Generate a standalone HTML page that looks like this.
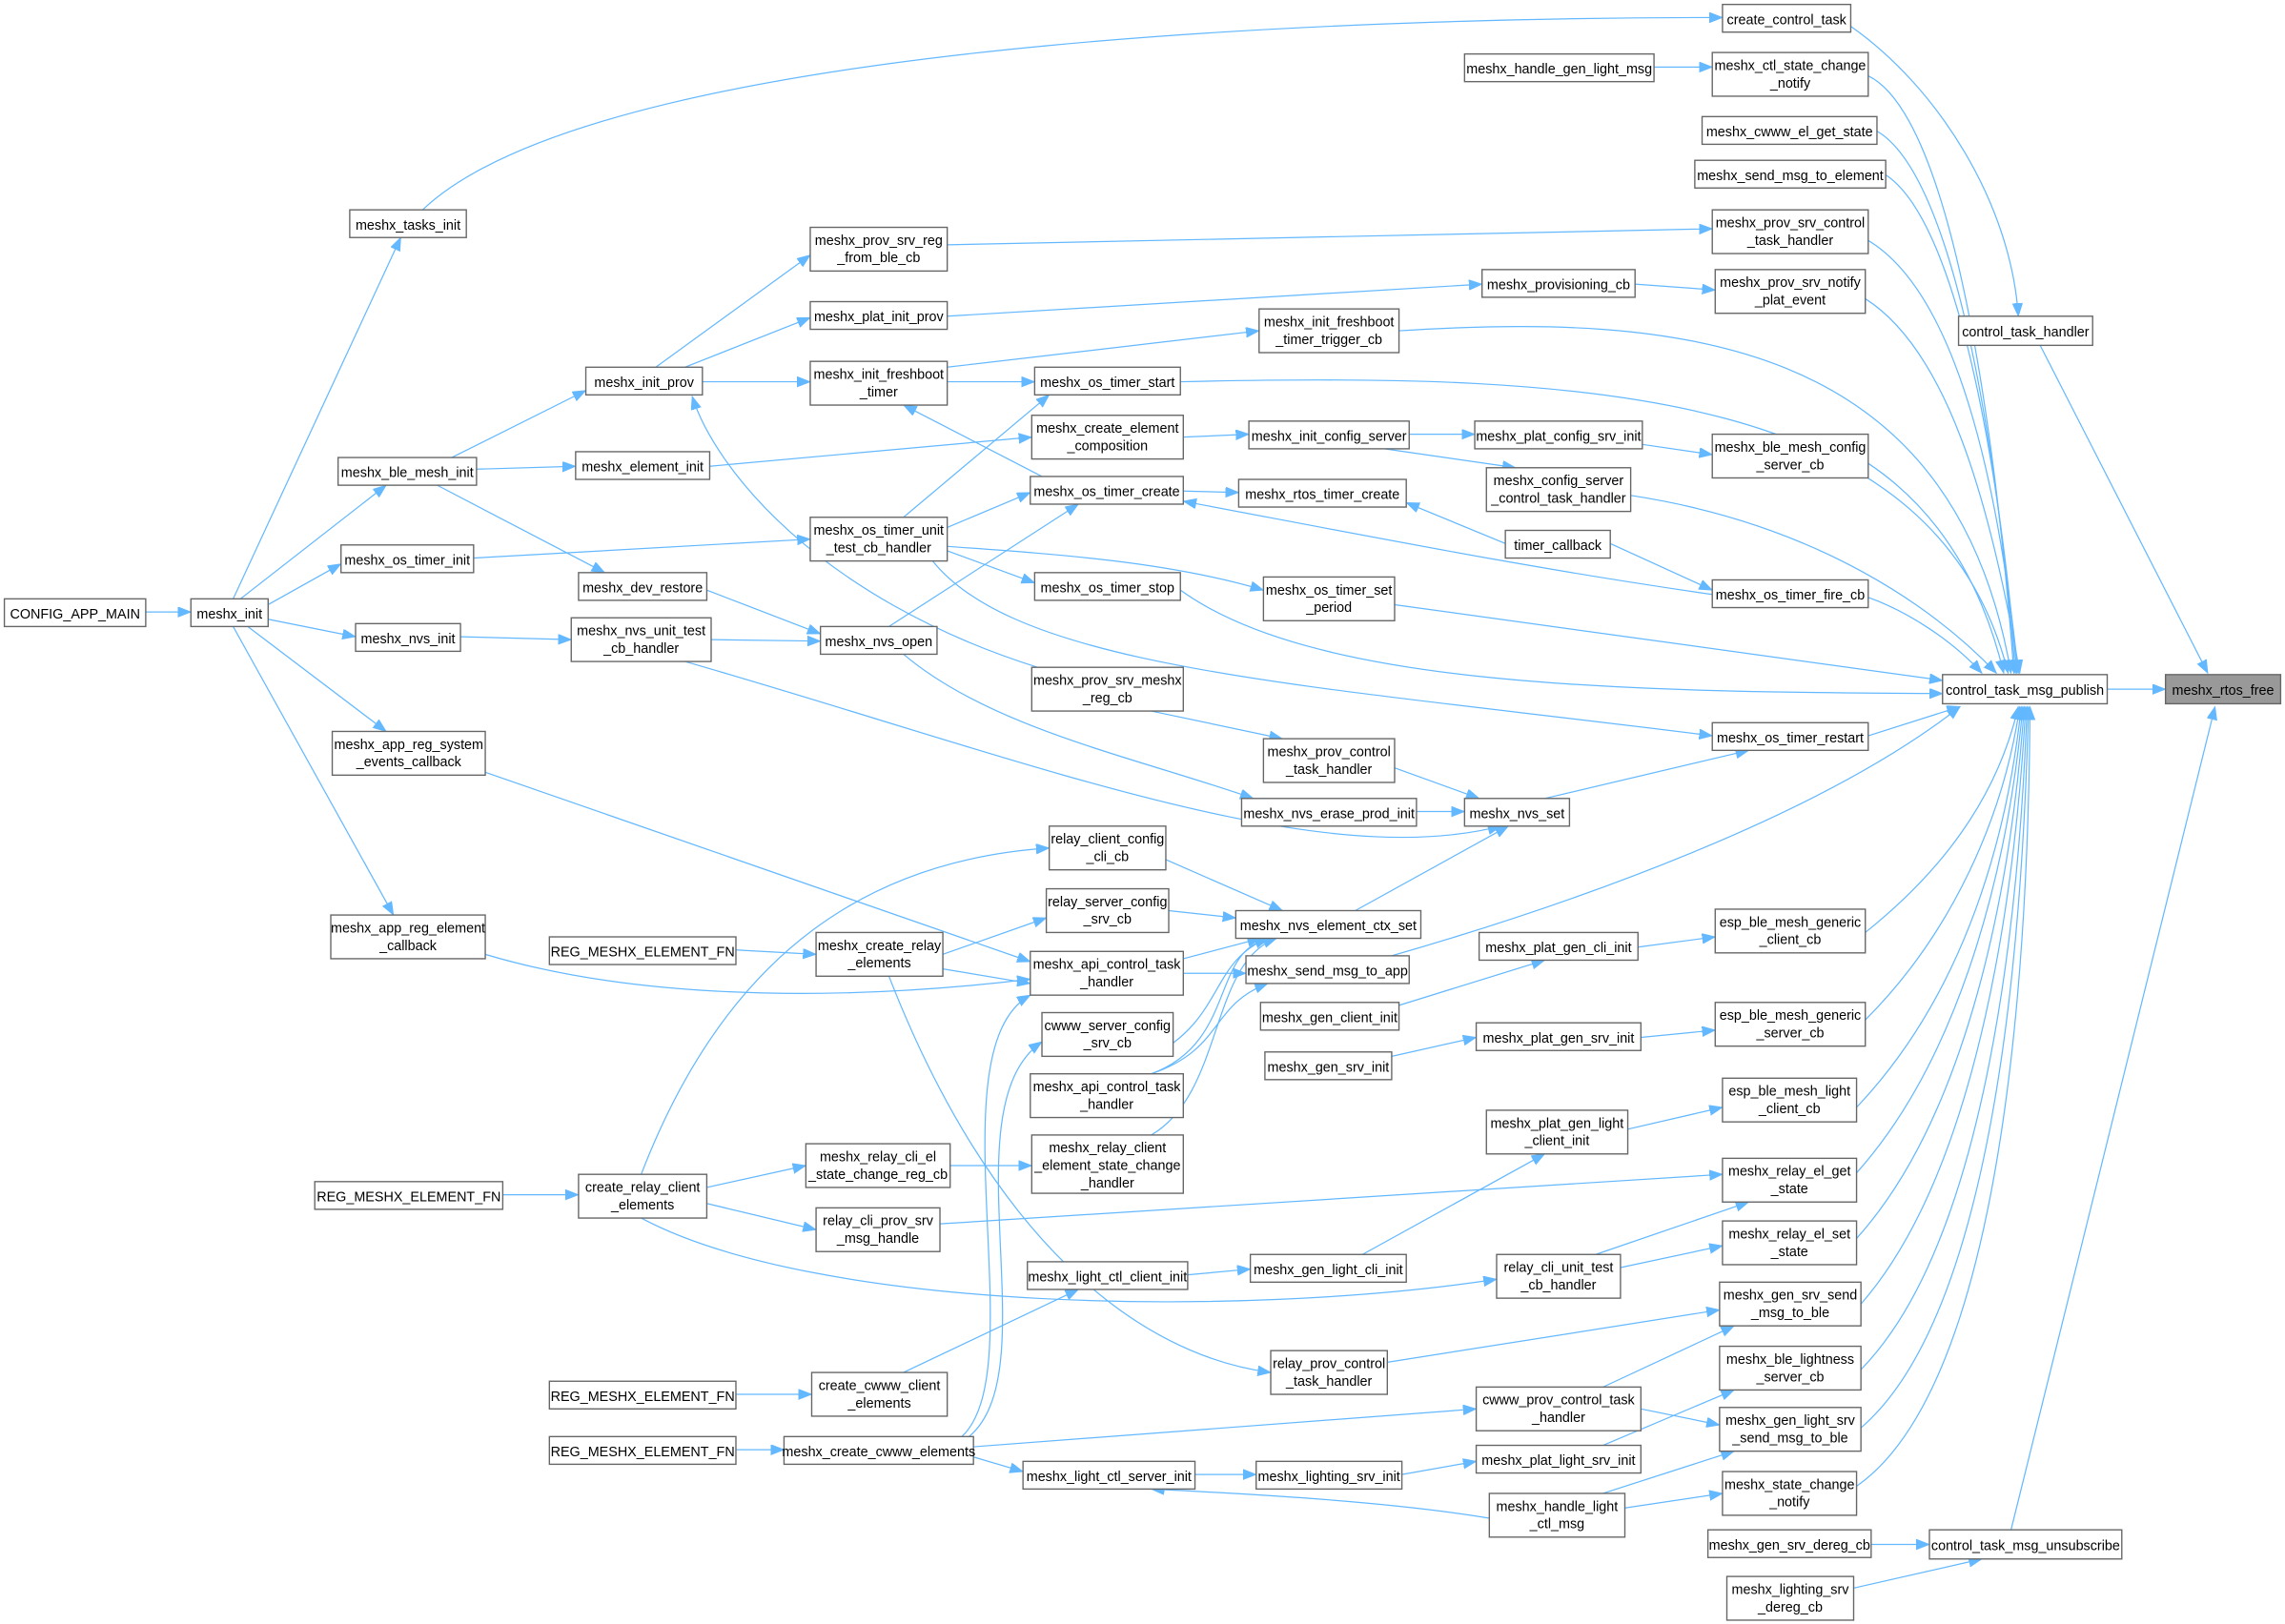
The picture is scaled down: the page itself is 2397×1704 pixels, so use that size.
<!DOCTYPE html>
<html><head><meta charset="utf-8"><style>
html,body{margin:0;padding:0;background:#fff;}
svg{display:block}
text{font-family:"Liberation Sans",Arial,sans-serif;font-size:9.4px;fill:#000;text-anchor:middle}
rect{fill:#fff;stroke:#666;stroke-width:0.9}
path{fill:none;stroke:#63b8ff;stroke-width:0.8}
</style></head><body>
<svg width="2397" height="1704" viewBox="0 0 1568 1114.6" xmlns="http://www.w3.org/2000/svg">
<defs><marker id="a" markerUnits="userSpaceOnUse" markerWidth="10" markerHeight="8" refX="9" refY="3.5" orient="auto"><path d="M0,0 L9,3.5 L0,7 z" style="fill:#63b8ff;stroke:#63b8ff;stroke-width:0.5"/></marker></defs>
<g marker-end="url(#a)">
<path d="M100,420 L131,420"/>
<path d="M160,411 L275,163"/>
<path d="M165,411 L265,333"/>
<path d="M184,415 L234,387"/>
<path d="M184,425 L244,437"/>
<path d="M170,430 L265,502"/>
<path d="M160,430 L270,628"/>
<path d="M290,144 C420,20 1000,12 1182,12"/>
<path d="M310,314 L402,268"/>
<path d="M327,322 L395,320"/>
<path d="M300,333 L415,393"/>
<path d="M325,383 L556,370"/>
<path d="M316,437 L392,439"/>
<path d="M333,530 L707,660"/>
<path d="M333,655 C450,690 600,685 707,672"/>
<path d="M450,252 L556,175"/>
<path d="M470,252 L556,218"/>
<path d="M482,262 L556,262"/>
<path d="M712,458 C560,410 490,320 475,272"/>
<path d="M487,320 L708,300"/>
<path d="M485,405 L563,435"/>
<path d="M488,439 L563,440"/>
<path d="M650,168 L1175,157"/>
<path d="M650,217 L1017,195"/>
<path d="M1122,195 L1177,199"/>
<path d="M650,252 L864,227"/>
<path d="M650,262 L710,262"/>
<path d="M715,327 L620,278"/>
<path d="M620,355 L720,271"/>
<path d="M650,362 L707,338"/>
<path d="M650,378 L710,400"/>
<path d="M650,375 C720,380 800,385 867,405"/>
<path d="M640,385 C700,460 900,470 1175,505"/>
<path d="M610,430 L740,346"/>
<path d="M812,337 L850,338"/>
<path d="M1105,373 L1175,405"/>
<path d="M1175,408 C1050,390 950,370 812,344"/>
<path d="M812,300 L857,298"/>
<path d="M967,298 L1012,298"/>
<path d="M950,308 L1040,321"/>
<path d="M1127,305 L1175,312"/>
<path d="M790,488 L880,507"/>
<path d="M957,527 L1015,548"/>
<path d="M620,449 C680,500 780,520 860,548"/>
<path d="M972,557 L1005,557"/>
<path d="M470,454 C700,520 900,600 1030,567"/>
<path d="M1060,548 L1200,515"/>
<path d="M930,625 L1035,567"/>
<path d="M800,590 L880,625"/>
<path d="M802,625 L848,630"/>
<path d="M812,658 L865,644"/>
<path d="M812,668 L855,668"/>
<path d="M790,725 C840,700 830,660 870,644"/>
<path d="M790,737 C850,715 830,650 873,644"/>
<path d="M790,779 C840,750 830,660 876,644"/>
<path d="M790,737 C840,720 830,690 870,675"/>
<path d="M955,656 C1080,620 1250,560 1345,485"/>
<path d="M647,655 L718,630"/>
<path d="M647,665 L707,675"/>
<path d="M505,652 L560,655"/>
<path d="M610,670 C680,850 780,930 872,942"/>
<path d="M440,806 C500,650 600,590 720,582"/>
<path d="M485,815 L553,800"/>
<path d="M485,826 L560,844"/>
<path d="M440,836 C560,900 850,905 1027,878"/>
<path d="M345,820 L397,820"/>
<path d="M652,800 L708,800"/>
<path d="M645,840 L1182,806"/>
<path d="M960,690 L1060,659"/>
<path d="M1124,650 L1177,643"/>
<path d="M955,725 L1013,712"/>
<path d="M1126,712 L1177,707"/>
<path d="M935,861 L1060,792"/>
<path d="M1117,775 L1182,760"/>
<path d="M815,875 L858,871"/>
<path d="M620,942 L740,885"/>
<path d="M1095,861 L1200,825"/>
<path d="M1112,870 L1182,855"/>
<path d="M952,935 L1180,899"/>
<path d="M665,986 C720,940 650,760 715,715"/>
<path d="M660,986 C710,940 640,720 707,683"/>
<path d="M668,993 L1013,967"/>
<path d="M668,1000 L702,1010"/>
<path d="M505,957 L557,957"/>
<path d="M505,995 L538,995"/>
<path d="M1100,952 L1190,910"/>
<path d="M1126,967 L1180,978"/>
<path d="M1100,992 L1190,954"/>
<path d="M962,1012 L1013,1003"/>
<path d="M820,1012 L862,1012"/>
<path d="M1022,1042 C950,1030 850,1025 790,1022"/>
<path d="M1100,1025 L1190,996"/>
<path d="M1115,1035 L1182,1025"/>
<path d="M1284,1060 L1324,1060"/>
<path d="M1272,1090 L1360,1070"/>
<path d="M1380,1050 L1520,485"/>
<path d="M1446,473 L1486,473"/>
<path d="M1400,237 L1515,462"/>
<path d="M1270,18 C1330,60 1380,140 1385,217"/>
<path d="M1135,46 L1175,46"/>
<path d="M1282,52 C1340,80 1370,300 1382,462"/>
<path d="M1288,90 C1340,120 1370,300 1383,462"/>
<path d="M1294,120 C1340,150 1370,300 1384,462"/>
<path d="M1282,165 C1340,200 1370,320 1385,462"/>
<path d="M1280,205 C1335,240 1365,340 1386,462"/>
<path d="M960,227 C1150,215 1340,230 1380,462"/>
<path d="M810,262 C1100,255 1330,270 1378,462"/>
<path d="M1282,318 C1330,350 1360,400 1375,462"/>
<path d="M1119,340 C1250,360 1330,420 1370,462"/>
<path d="M1282,410 C1310,420 1340,440 1360,462"/>
<path d="M957,415 L1333,467"/>
<path d="M810,405 C900,470 1100,475 1333,476"/>
<path d="M1282,505 L1345,485"/>
<path d="M1280,640 C1330,600 1370,550 1385,485"/>
<path d="M1280,700 C1340,640 1375,560 1386,485"/>
<path d="M1274,760 C1350,680 1378,570 1387,485"/>
<path d="M1274,805 C1350,720 1380,580 1388,485"/>
<path d="M1274,850 C1355,760 1382,590 1389,485"/>
<path d="M1277,895 C1360,800 1384,600 1390,485"/>
<path d="M1277,940 C1365,850 1386,620 1391,485"/>
<path d="M1277,980 C1370,900 1388,640 1392,485"/>
<path d="M1274,1020 C1375,950 1392,660 1393,485"/>
<path d="M1033,373 L965,345"/>
</g>
<g>
<rect x="1486" y="463" width="79" height="20" style="fill:#999"/><text x="1525.5" y="477">meshx_rtos_free</text>
<rect x="1333" y="463" width="113" height="20"/><text x="1389.5" y="477">control_task_msg_publish</text>
<rect x="1344" y="217" width="92" height="20"/><text x="1390" y="231">control_task_handler</text>
<rect x="1324" y="1050" width="132" height="20"/><text x="1390" y="1064">control_task_msg_unsubscribe</text>
<rect x="1182" y="3" width="88" height="19"/><text x="1226" y="16.5">create_control_task</text>
<rect x="1175" y="36" width="107" height="30"/><text x="1228.5" y="48">meshx_ctl_state_change</text><text x="1228.5" y="60">_notify</text>
<rect x="1168" y="80" width="120" height="19"/><text x="1228" y="93.5">meshx_cwww_el_get_state</text>
<rect x="1163" y="110" width="131" height="19"/><text x="1228.5" y="123.5">meshx_send_msg_to_element</text>
<rect x="1175" y="144" width="107" height="30"/><text x="1228.5" y="156">meshx_prov_srv_control</text><text x="1228.5" y="168">_task_handler</text>
<rect x="1177" y="185" width="103" height="30"/><text x="1228.5" y="197">meshx_prov_srv_notify</text><text x="1228.5" y="209">_plat_event</text>
<rect x="1175" y="298" width="107" height="30"/><text x="1228.5" y="310">meshx_ble_mesh_config</text><text x="1228.5" y="322">_server_cb</text>
<rect x="1175" y="398" width="107" height="19"/><text x="1228.5" y="411.5">meshx_os_timer_fire_cb</text>
<rect x="1175" y="496" width="107" height="19"/><text x="1228.5" y="509.5">meshx_os_timer_restart</text>
<rect x="1177" y="624" width="103" height="30"/><text x="1228.5" y="636">esp_ble_mesh_generic</text><text x="1228.5" y="648">_client_cb</text>
<rect x="1177" y="688" width="103" height="30"/><text x="1228.5" y="700">esp_ble_mesh_generic</text><text x="1228.5" y="712">_server_cb</text>
<rect x="1182" y="740" width="92" height="30"/><text x="1228" y="752">esp_ble_mesh_light</text><text x="1228" y="764">_client_cb</text>
<rect x="1182" y="795" width="92" height="30"/><text x="1228" y="807">meshx_relay_el_get</text><text x="1228" y="819">_state</text>
<rect x="1182" y="838" width="92" height="30"/><text x="1228" y="850">meshx_relay_el_set</text><text x="1228" y="862">_state</text>
<rect x="1180" y="880" width="97" height="30"/><text x="1228.5" y="892">meshx_gen_srv_send</text><text x="1228.5" y="904">_msg_to_ble</text>
<rect x="1180" y="924" width="97" height="30"/><text x="1228.5" y="936">meshx_ble_lightness</text><text x="1228.5" y="948">_server_cb</text>
<rect x="1180" y="966" width="97" height="30"/><text x="1228.5" y="978">meshx_gen_light_srv</text><text x="1228.5" y="990">_send_msg_to_ble</text>
<rect x="1182" y="1010" width="92" height="30"/><text x="1228" y="1022">meshx_state_change</text><text x="1228" y="1034">_notify</text>
<rect x="1172" y="1050" width="112" height="19"/><text x="1228" y="1063.5">meshx_gen_srv_dereg_cb</text>
<rect x="1185" y="1082" width="87" height="30"/><text x="1228.5" y="1094">meshx_lighting_srv</text><text x="1228.5" y="1106">_dereg_cb</text>
<rect x="1005" y="37" width="130" height="19"/><text x="1070" y="50.5">meshx_handle_gen_light_msg</text>
<rect x="1017" y="185" width="105" height="19"/><text x="1069.5" y="198.5">meshx_provisioning_cb</text>
<rect x="1012" y="289" width="115" height="19"/><text x="1069.5" y="302.5">meshx_plat_config_srv_init</text>
<rect x="1020" y="321" width="99" height="30"/><text x="1069.5" y="333">meshx_config_server</text><text x="1069.5" y="345">_control_task_handler</text>
<rect x="1033" y="364" width="72" height="19"/><text x="1069" y="377.5">timer_callback</text>
<rect x="1005" y="548" width="72" height="19"/><text x="1041" y="561.5">meshx_nvs_set</text>
<rect x="1015" y="640" width="109" height="19"/><text x="1069.5" y="653.5">meshx_plat_gen_cli_init</text>
<rect x="1013" y="702" width="113" height="19"/><text x="1069.5" y="715.5">meshx_plat_gen_srv_init</text>
<rect x="1020" y="762" width="97" height="30"/><text x="1068.5" y="774">meshx_plat_gen_light</text><text x="1068.5" y="786">_client_init</text>
<rect x="1027" y="861" width="85" height="30"/><text x="1069.5" y="873">relay_cli_unit_test</text><text x="1069.5" y="885">_cb_handler</text>
<rect x="1013" y="952" width="113" height="30"/><text x="1069.5" y="964">cwww_prov_control_task</text><text x="1069.5" y="976">_handler</text>
<rect x="1013" y="992" width="113" height="19"/><text x="1069.5" y="1005.5">meshx_plat_light_srv_init</text>
<rect x="1022" y="1025" width="93" height="30"/><text x="1068.5" y="1037">meshx_handle_light</text><text x="1068.5" y="1049">_ctl_msg</text>
<rect x="864" y="212" width="96" height="30"/><text x="912" y="224">meshx_init_freshboot</text><text x="912" y="236">_timer_trigger_cb</text>
<rect x="857" y="289" width="110" height="19"/><text x="912" y="302.5">meshx_init_config_server</text>
<rect x="850" y="329" width="115" height="19"/><text x="907.5" y="342.5">meshx_rtos_timer_create</text>
<rect x="867" y="396" width="90" height="30"/><text x="912" y="408">meshx_os_timer_set</text><text x="912" y="420">_period</text>
<rect x="867" y="507" width="90" height="30"/><text x="912" y="519">meshx_prov_control</text><text x="912" y="531">_task_handler</text>
<rect x="852" y="548" width="120" height="19"/><text x="912" y="561.5">meshx_nvs_erase_prod_init</text>
<rect x="848" y="625" width="127" height="19"/><text x="911.5" y="638.5">meshx_nvs_element_ctx_set</text>
<rect x="855" y="656" width="112" height="19"/><text x="911" y="669.5">meshx_send_msg_to_app</text>
<rect x="865" y="688" width="95" height="19"/><text x="912.5" y="701.5">meshx_gen_client_init</text>
<rect x="868" y="722" width="87" height="19"/><text x="911.5" y="735.5">meshx_gen_srv_init</text>
<rect x="858" y="861" width="107" height="19"/><text x="911.5" y="874.5">meshx_gen_light_cli_init</text>
<rect x="872" y="927" width="80" height="30"/><text x="912" y="939">relay_prov_control</text><text x="912" y="951">_task_handler</text>
<rect x="862" y="1003" width="100" height="19"/><text x="912" y="1016.5">meshx_lighting_srv_init</text>
<rect x="710" y="252" width="100" height="19"/><text x="760" y="265.5">meshx_os_timer_start</text>
<rect x="708" y="285" width="104" height="30"/><text x="760" y="297">meshx_create_element</text><text x="760" y="309">_composition</text>
<rect x="707" y="327" width="105" height="19"/><text x="759.5" y="340.5">meshx_os_timer_create</text>
<rect x="710" y="393" width="100" height="19"/><text x="760" y="406.5">meshx_os_timer_stop</text>
<rect x="708" y="458" width="104" height="30"/><text x="760" y="470">meshx_prov_srv_meshx</text><text x="760" y="482">_reg_cb</text>
<rect x="720" y="567" width="80" height="30"/><text x="760" y="579">relay_client_config</text><text x="760" y="591">_cli_cb</text>
<rect x="718" y="610" width="84" height="30"/><text x="760" y="622">relay_server_config</text><text x="760" y="634">_srv_cb</text>
<rect x="707" y="653" width="105" height="30"/><text x="759.5" y="665">meshx_api_control_task</text><text x="759.5" y="677">_handler</text>
<rect x="715" y="695" width="90" height="30"/><text x="760" y="707">cwww_server_config</text><text x="760" y="719">_srv_cb</text>
<rect x="707" y="737" width="105" height="30"/><text x="759.5" y="749">meshx_api_control_task</text><text x="759.5" y="761">_handler</text>
<rect x="708" y="779" width="104" height="40"/><text x="760" y="791">meshx_relay_client</text><text x="760" y="803">_element_state_change</text><text x="760" y="815">_handler</text>
<rect x="705" y="866" width="110" height="19"/><text x="760" y="879.5">meshx_light_ctl_client_init</text>
<rect x="702" y="1003" width="118" height="19"/><text x="761" y="1016.5">meshx_light_ctl_server_init</text>
<rect x="556" y="156" width="94" height="30"/><text x="603" y="168">meshx_prov_srv_reg</text><text x="603" y="180">_from_ble_cb</text>
<rect x="556" y="207" width="94" height="19"/><text x="603" y="220.5">meshx_plat_init_prov</text>
<rect x="556" y="248" width="94" height="30"/><text x="603" y="260">meshx_init_freshboot</text><text x="603" y="272">_timer</text>
<rect x="556" y="355" width="94" height="30"/><text x="603" y="367">meshx_os_timer_unit</text><text x="603" y="379">_test_cb_handler</text>
<rect x="563" y="430" width="80" height="19"/><text x="603" y="443.5">meshx_nvs_open</text>
<rect x="560" y="640" width="87" height="30"/><text x="603.5" y="652">meshx_create_relay</text><text x="603.5" y="664">_elements</text>
<rect x="553" y="785" width="99" height="30"/><text x="602.5" y="797">meshx_relay_cli_el</text><text x="602.5" y="809">_state_change_reg_cb</text>
<rect x="560" y="829" width="85" height="30"/><text x="602.5" y="841">relay_cli_prov_srv</text><text x="602.5" y="853">_msg_handle</text>
<rect x="557" y="942" width="93" height="30"/><text x="603.5" y="954">create_cwww_client</text><text x="603.5" y="966">_elements</text>
<rect x="538" y="986" width="130" height="19"/><text x="603" y="999.5">meshx_create_cwww_elements</text>
<rect x="402" y="252" width="80" height="19"/><text x="442" y="265.5">meshx_init_prov</text>
<rect x="395" y="310" width="92" height="19"/><text x="441" y="323.5">meshx_element_init</text>
<rect x="397" y="393" width="88" height="19"/><text x="441" y="406.5">meshx_dev_restore</text>
<rect x="392" y="424" width="96" height="30"/><text x="440" y="436">meshx_nvs_unit_test</text><text x="440" y="448">_cb_handler</text>
<rect x="377" y="643" width="128" height="19"/><text x="441" y="656.5">REG_MESHX_ELEMENT_FN</text>
<rect x="397" y="806" width="88" height="30"/><text x="441" y="818">create_relay_client</text><text x="441" y="830">_elements</text>
<rect x="377" y="948" width="128" height="19"/><text x="441" y="961.5">REG_MESHX_ELEMENT_FN</text>
<rect x="377" y="986" width="128" height="19"/><text x="441" y="999.5">REG_MESHX_ELEMENT_FN</text>
<rect x="240" y="144" width="80" height="19"/><text x="280" y="157.5">meshx_tasks_init</text>
<rect x="232" y="314" width="95" height="19"/><text x="279.5" y="327.5">meshx_ble_mesh_init</text>
<rect x="234" y="374" width="91" height="19"/><text x="279.5" y="387.5">meshx_os_timer_init</text>
<rect x="244" y="428" width="72" height="19"/><text x="280" y="441.5">meshx_nvs_init</text>
<rect x="228" y="502" width="105" height="30"/><text x="280.5" y="514">meshx_app_reg_system</text><text x="280.5" y="526">_events_callback</text>
<rect x="227" y="628" width="106" height="30"/><text x="280" y="640">meshx_app_reg_element</text><text x="280" y="652">_callback</text>
<rect x="216" y="811" width="129" height="19"/><text x="280.5" y="824.5">REG_MESHX_ELEMENT_FN</text>
<rect x="131" y="411" width="53" height="19"/><text x="157.5" y="424.5">meshx_init</text>
<rect x="3" y="411" width="97" height="19"/><text x="51.5" y="424.5">CONFIG_APP_MAIN</text>
</g>
</svg>
</body></html>
